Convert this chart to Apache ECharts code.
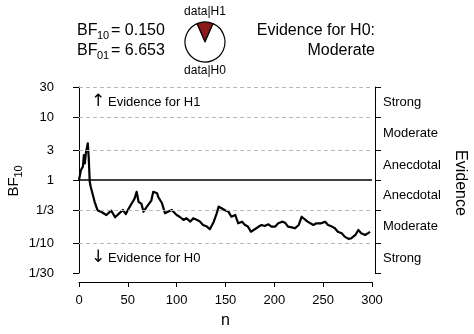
<!DOCTYPE html>
<html><head><meta charset="utf-8">
<script src="https://cdn.jsdelivr.net/npm/echarts@6/dist/echarts.min.js"></script>
<style>html,body{margin:0;padding:0;background:#fff}#c{width:474px;height:334px}</style>
</head><body><div id="c"></div>
<script>
// ---- data ----
const nValues = [0,2,4,5,6,7,9,10,11,12,14,16,19,23,28,33,37,42,45,48,51,55,57,59,61,64,66,69,74,76,80,81,85,88,91,95,97,100,103,107,110,114,117,121,124,127,131,134,136,138,141,143,146,149,153,156,160,163,167,170,173,176,180,184,187,190,194,197,201,204,208,211,214,218,221,225,228,230,234,236,240,243,245,248,252,255,259,262,265,269,272,276,279,283,286,289,293,296,298];
const bf10Values = [1.00,1.44,1.63,2.49,1.84,2.65,3.83,2.20,0.94,0.78,0.75,0.45,0.33,0.31,0.278,0.326,0.256,0.303,0.334,0.288,0.355,0.452,0.51,0.65,0.45,0.416,0.314,0.368,0.469,0.65,0.615,0.543,0.427,0.296,0.314,0.334,0.355,0.278,0.261,0.232,0.247,0.218,0.247,0.232,0.218,0.193,0.182,0.165,0.161,0.218,0.296,0.377,0.355,0.334,0.314,0.261,0.278,0.205,0.218,0.193,0.182,0.151,0.165,0.182,0.193,0.186,0.198,0.182,0.182,0.205,0.218,0.210,0.182,0.177,0.171,0.193,0.261,0.278,0.218,0.205,0.193,0.205,0.218,0.205,0.218,0.193,0.182,0.171,0.151,0.143,0.126,0.116,0.119,0.134,0.161,0.143,0.134,0.143,0.150];
const yTickValues = [1/30, 1/10, 1/3, 1, 3, 10, 30];
const yTickLabels = ['1/30','1/10','1/3','1','3','10','30'];
const evidenceLabels = ['Strong','Moderate','Anecdotal','Anecdotal','Moderate','Strong']; // bottom to top
const xTickValues = [0,50,100,150,200,250,300];
const bf10 = 0.150;
const bf01 = 6.653;
const evidenceHeader = ['Evidence for H0:', 'Moderate'];
const pieLabels = ['data|H1', 'data|H0'];
const arrowLabels = ['Evidence for H1', 'Evidence for H0'];

// ---- chart ----
const FONT = '"Liberation Sans", Arial, sans-serif';
const yMin = yTickValues[0] * 0.9999, yMax = yTickValues[yTickValues.length - 1] * 1.0001;
const midValues = [];
for (let i = 0; i < yTickValues.length - 1; i++) midValues.push(Math.sqrt(yTickValues[i] * yTickValues[i + 1]));
function lookup(vals, labels, v) {
  let best = 0, bd = Infinity;
  vals.forEach((t, i) => { const d = Math.abs(Math.log(v / t)); if (d < bd) { bd = d; best = i; } });
  return labels[best];
}
const chart = echarts.init(document.getElementById('c'), null, { renderer: 'canvas' });
const gridMarks = yTickValues.map(v => ({
  yAxis: v,
  lineStyle: v === 1 ? { type: 'solid', color: '#000', width: 1.5 } : { type: [4, 3], color: '#b8b8b8', width: 1 }
}));
chart.setOption({
  animation: false,
  textStyle: { fontFamily: FONT },
  grid: { left: 79, right: 102, top: 87, bottom: 61, containLabel: false },
  xAxis: {
    type: 'value', min: 0, max: 300, interval: 50, offset: 9,
    axisLine: { show: true, lineStyle: { color: '#000', width: 1 } },
    axisTick: { show: true, length: 5, lineStyle: { color: '#000' } },
    axisLabel: { fontSize: 13, color: '#000', margin: 12, fontFamily: FONT, customValues: xTickValues },
    splitLine: { show: false },
    name: 'n', nameLocation: 'middle', nameGap: 31,
    nameTextStyle: { fontSize: 16, color: '#000', fontFamily: FONT }
  },
  yAxis: [{
    type: 'log', logBase: 10, min: yMin, max: yMax, position: 'left', offset: 12,
    axisLine: { show: true, lineStyle: { color: '#000', width: 1 } },
    axisTick: { show: true, length: 6, customValues: yTickValues, lineStyle: { color: '#000' } },
    axisLabel: { customValues: yTickValues, fontSize: 13, color: '#000', margin: 13, fontFamily: FONT,
      formatter: v => lookup(yTickValues, yTickLabels, v) },
    splitLine: { show: false }
  }, {
    type: 'log', logBase: 10, min: yMin, max: yMax, position: 'right', offset: 3,
    axisLine: { show: true, lineStyle: { color: '#000', width: 1 } },
    axisTick: { show: true, length: 6, customValues: yTickValues, lineStyle: { color: '#000' } },
    axisLabel: { customValues: midValues, fontSize: 13, color: '#000', margin: 8, fontFamily: FONT,
      formatter: v => lookup(midValues, evidenceLabels, v) },
    splitLine: { show: false }
  }],
  series: [{
    type: 'line', xAxisIndex: 0, yAxisIndex: 0,
    data: nValues.map((n, i) => [n, bf10Values[i]]),
    showSymbol: false, symbol: 'none', silent: true,
    lineStyle: { color: '#000', width: 2.2, join: 'round' },
    markLine: { silent: true, symbol: ['none', 'none'], label: { show: false }, data: gridMarks },
    z: 3
  }, {
    type: 'pie', center: [205, 42], radius: [0, 20], silent: true,
    startAngle: 90 + 180 * bf10 / (1 + bf10), clockwise: true,
    label: { show: false }, labelLine: { show: false },
    itemStyle: { borderColor: '#000', borderWidth: 1.2 },
    data: [
      { value: bf10, name: pieLabels[0], itemStyle: { color: '#8b1a1a' } },
      { value: 1, name: pieLabels[1], itemStyle: { color: '#fff' } }
    ]
  }],
  graphic: [
    // BF values at top left
    { type: 'text', x: 77, y: 31, style: { text: 'BF', font: '16px ' + FONT, fill: '#000', verticalAlign: 'middle' } },
    { type: 'text', x: 97, y: 35.5, style: { text: '10', font: '11px ' + FONT, fill: '#000', verticalAlign: 'middle' } },
    { type: 'text', x: 111, y: 31, style: { text: '= ' + bf10.toFixed(3), font: '16px ' + FONT, fill: '#000', verticalAlign: 'middle' } },
    { type: 'text', x: 77, y: 51, style: { text: 'BF', font: '16px ' + FONT, fill: '#000', verticalAlign: 'middle' } },
    { type: 'text', x: 97, y: 55.5, style: { text: '01', font: '11px ' + FONT, fill: '#000', verticalAlign: 'middle' } },
    { type: 'text', x: 111, y: 51, style: { text: '= ' + bf01.toFixed(3), font: '16px ' + FONT, fill: '#000', verticalAlign: 'middle' } },
    // pie labels
    { type: 'text', x: 205, y: 12, style: { text: pieLabels[0], font: '12px ' + FONT, fill: '#000', align: 'center', verticalAlign: 'middle' } },
    { type: 'text', x: 205, y: 71, style: { text: pieLabels[1], font: '12px ' + FONT, fill: '#000', align: 'center', verticalAlign: 'middle' } },
    // evidence header
    { type: 'text', x: 375, y: 31, style: { text: evidenceHeader[0], font: '16px ' + FONT, fill: '#000', align: 'right', verticalAlign: 'middle' } },
    { type: 'text', x: 375, y: 51, style: { text: evidenceHeader[1], font: '16px ' + FONT, fill: '#000', align: 'right', verticalAlign: 'middle' } },
    // arrows
    { type: 'text', x: 98, y: 102, style: { text: '\u2191', font: '17px "DejaVu Sans", ' + FONT, fill: '#000', align: 'center', verticalAlign: 'middle' } },
    { type: 'text', x: 108, y: 102, style: { text: arrowLabels[0], font: '13px ' + FONT, fill: '#000', verticalAlign: 'middle' } },
    { type: 'text', x: 98, y: 258, style: { text: '\u2193', font: '17px "DejaVu Sans", ' + FONT, fill: '#000', align: 'center', verticalAlign: 'middle' } },
    { type: 'text', x: 108, y: 258, style: { text: arrowLabels[1], font: '13px ' + FONT, fill: '#000', verticalAlign: 'middle' } },
    // y axis title BF10 (rotated, reads bottom to top)
    { type: 'group', x: 14, y: 181, rotation: Math.PI / 2, children: [
      { type: 'text', x: -15.5, y: 0, style: { text: 'BF', font: '15px ' + FONT, fill: '#000', verticalAlign: 'middle' } },
      { type: 'text', x: 3.5, y: 5, style: { text: '10', font: '11px ' + FONT, fill: '#000', verticalAlign: 'middle' } }
    ]},
    // right title
    { type: 'text', x: 460, y: 183, rotation: -Math.PI / 2, style: { text: 'Evidence', font: '16px ' + FONT, fill: '#000', align: 'center', verticalAlign: 'middle' } }
  ]
});
</script>
</body></html>
